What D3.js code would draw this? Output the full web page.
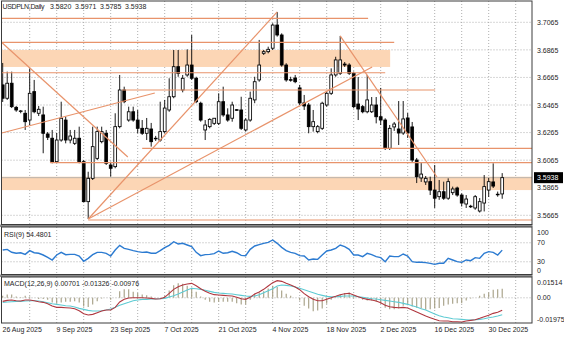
<!DOCTYPE html>
<html>
<head>
<meta charset="utf-8">
<script src="https://cdn.jsdelivr.net/npm/d3@7/dist/d3.min.js"></script>
<style>
  html, body { margin: 0; padding: 0; background: #fff; }
  svg { display: block; }
  text { font-family: "Liberation Sans", Arial, sans-serif; font-size: 7px; fill: #1e1e1e; }
</style>
</head>
<body>
<svg id="chart" width="564" height="338"></svg>
<script>
// ---- USDPLN daily candles (bar index 0 = 26 Aug 2025) ----
const symbol = "USDPLN,Daily";

const open = [3.6611,3.6514,3.6623,3.6448,3.6418,3.6405,3.6356,3.6562,3.6405,3.6393,
3.6255,3.6224,3.6054,3.6211,3.6356,3.6211,3.6187,3.6224,3.6054,3.5764,
3.5933,3.6078,3.6199,3.6260,3.6030,3.6018,3.6308,3.6574,3.6356,3.6416,
3.6356,3.6296,3.6260,3.6291,3.6224,3.6211,3.6272,3.6429,3.6525,3.6743,
3.6574,3.6683,3.6755,3.6659,3.6478,3.6284,3.6308,3.6332,3.6332,3.6489,
3.6393,3.6369,3.6431,3.6429,3.6284,3.6356,3.6502,3.6647,3.6840,3.6852,
3.6877,3.7045,3.6973,3.6755,3.6649,3.6661,3.6589,3.6480,3.6465,3.6308,
3.6272,3.6296,3.6465,3.6550,3.6683,3.6695,3.6762,3.6755,3.6695,3.6472,
3.6453,3.6416,3.6416,3.6465,3.6380,3.6356,3.6151,3.6306,3.6291,3.6262,
3.6371,3.6306,3.6066,3.5936,3.5907,3.5909,3.5848,3.5800,3.5836,3.5789,
3.5829,3.5863,3.5812,3.5747,3.5731,3.5718,3.5696,3.5754,3.5848,3.5907,
3.5818,3.5820];

const high = [3.6770,3.6707,3.6707,3.6458,3.6429,3.6429,3.6731,3.6647,3.6458,3.6453,
3.6269,3.6284,3.6262,3.6489,3.6380,3.6284,3.6284,3.6308,3.6066,3.5981,
3.6308,3.6308,3.6308,3.6284,3.6054,3.6405,3.6683,3.6598,3.6453,3.6453,
3.6429,3.6356,3.6371,3.6335,3.6241,3.6489,3.6502,3.6659,3.6864,3.6864,
3.6683,3.6869,3.6973,3.6670,3.6489,3.6356,3.6369,3.6371,3.6550,3.6598,
3.6441,3.6489,3.6435,3.6525,3.6369,3.6562,3.6670,3.6937,3.6864,3.6888,
3.7058,3.7140,3.6985,3.6768,3.6670,3.6683,3.6611,3.6538,3.6480,3.6429,
3.6320,3.6489,3.6562,3.6731,3.6815,3.6966,3.6777,3.6768,3.6707,3.6668,
3.6465,3.6683,3.6523,3.6523,3.6589,3.6369,3.6320,3.6342,3.6494,3.6494,
3.6407,3.6342,3.6081,3.6044,3.5950,3.5945,3.6030,3.5921,3.5909,3.5933,
3.5873,3.5873,3.5824,3.5812,3.5741,3.5812,3.5790,3.5957,3.5936,3.6042,
3.5837,3.5971];

const low = [3.6487,3.6502,3.6443,3.6416,3.6405,3.6284,3.6320,3.6405,3.6385,3.6115,
3.6211,3.6042,3.6044,3.6199,3.6187,3.6187,3.6175,3.6042,3.5760,3.5638,
3.5921,3.6066,3.6187,3.6030,3.5945,3.6006,3.6296,3.6478,3.6344,3.6344,
3.6260,3.6248,3.6211,3.6163,3.6204,3.6199,3.6260,3.6416,3.6514,3.6670,
3.6557,3.6670,3.6647,3.6478,3.6344,3.6211,3.6296,3.6320,3.6320,3.6380,
3.6344,3.6344,3.6423,3.6284,3.6272,3.6344,3.6478,3.6634,3.6828,3.6840,
3.6864,3.6961,3.6743,3.6634,3.6634,3.6623,3.6465,3.6429,3.6260,3.6272,
3.6260,3.6284,3.6453,3.6538,3.6670,3.6683,3.6741,3.6683,3.6441,3.6356,
3.6405,3.6405,3.6407,3.6332,3.6320,3.6139,3.6139,3.6277,3.6175,3.6248,
3.6226,3.6052,3.5899,3.5907,3.5885,3.5812,3.5718,3.5777,3.5777,3.5777,
3.5812,3.5800,3.5729,3.5718,3.5718,3.5705,3.5685,3.5693,3.5798,3.5863,
3.5800,3.5785];

const close = [3.6514,3.6623,3.6453,3.6429,3.6422,3.6344,3.6550,3.6416,3.6434,3.6260,
3.6231,3.6054,3.6211,3.6369,3.6211,3.6240,3.6224,3.6054,3.5764,3.5933,
3.6163,3.6272,3.6272,3.6042,3.6006,3.6308,3.6574,3.6489,3.6416,3.6356,
3.6296,3.6260,3.6296,3.6199,3.6222,3.6272,3.6443,3.6525,3.6743,3.6695,
3.6659,3.6755,3.6659,3.6489,3.6356,3.6320,3.6361,3.6369,3.6489,3.6393,
3.6356,3.6465,3.6427,3.6296,3.6356,3.6514,3.6634,3.6755,3.6852,3.6869,
3.7045,3.6973,3.6755,3.6647,3.6645,3.6634,3.6480,3.6458,3.6308,3.6344,
3.6308,3.6478,3.6550,3.6683,3.6792,3.6792,3.6755,3.6695,3.6453,3.6436,
3.6416,3.6502,3.6465,3.6380,3.6356,3.6151,3.6296,3.6327,3.6262,3.6364,
3.6262,3.6066,3.5945,3.5964,3.5933,3.5848,3.5789,3.5836,3.5789,3.5909,
3.5856,3.5812,3.5754,3.5783,3.5727,3.5800,3.5764,3.5873,3.5909,3.5877,
3.5815,3.5938];

// ---- RSI(9) ----
const rsi = [54.7,56.0,50.0,47.8,49.0,45.6,53.3,49.0,47.8,44.2,
39.3,33.7,44.2,49.8,44.9,45.6,45.6,42.1,30.9,37.2,
44.9,49.8,49.8,47.8,42.1,54.7,64.6,58.3,56.1,53.3,
51.2,49.8,50.5,47.8,47.8,53.3,59.6,64.6,72.2,67.4,
68.8,65.3,61.8,49.8,42.8,44.9,45.6,47.0,52.6,47.8,
49.0,51.9,49.0,43.5,42.8,56.1,63.2,66.0,68.8,70.9,
75.8,68.8,60.3,53.3,49.8,47.7,42.8,42.1,33.7,35.8,
35.1,44.2,52.6,54.7,58.2,65.3,61.7,56.1,44.2,44.2,
40.7,47.7,44.9,40.7,38.6,30.2,42.1,40.7,40.7,46.3,
42.1,30.2,28.8,28.8,28.1,26.7,24.6,26.7,26.7,37.2,
33.7,30.2,28.8,33.7,32.3,38.6,37.2,47.7,51.2,49.8,
44.2,54.4801];

// ---- MACD(12,26,9): histogram, signal line, main line ----
const macdHist = [0.0016,0.0026,0.0026,0.0010,0.0005,0.0016,0.0010,0.0000,-0.0010,-0.0010,
-0.0016,-0.0037,-0.0047,-0.0037,-0.0031,-0.0031,-0.0026,-0.0037,-0.0068,-0.0073,
-0.0052,-0.0026,-0.0005,0.0000,-0.0016,0.0000,0.0052,0.0068,0.0068,0.0047,
0.0037,0.0026,0.0021,0.0010,0.0000,0.0000,0.0016,0.0057,0.0099,0.0115,
0.0110,0.0094,0.0078,0.0047,0.0010,-0.0016,-0.0031,-0.0037,-0.0031,-0.0031,
-0.0031,-0.0031,-0.0042,-0.0052,-0.0052,-0.0016,0.0031,0.0042,0.0052,0.0073,
0.0094,0.0084,0.0057,0.0031,0.0016,0.0000,-0.0021,-0.0063,-0.0084,-0.0105,
-0.0099,-0.0084,-0.0047,-0.0016,0.0005,0.0026,0.0037,0.0042,0.0016,0.0000,
-0.0016,-0.0021,-0.0021,-0.0031,-0.0047,-0.0078,-0.0089,-0.0089,-0.0084,-0.0063,
-0.0058,-0.0068,-0.0078,-0.0084,-0.0094,-0.0089,-0.0084,-0.0079,-0.0063,-0.0052,
-0.0047,-0.0042,-0.0042,-0.0021,-0.0005,0.0000,0.0016,0.0031,0.0042,0.0063,
0.0068,0.00701];

const macdSignal = [-0.00355,-0.00329,-0.00303,-0.00277,-0.00277,-0.00251,-0.00225,-0.00225,-0.00251,-0.00303,
-0.00382,-0.00460,-0.00512,-0.00565,-0.00617,-0.00643,-0.00722,-0.00826,-0.00905,-0.00983,
-0.01035,-0.01035,-0.01010,-0.00957,-0.00879,-0.00748,-0.00591,-0.00460,-0.00355,-0.00225,
-0.00173,-0.00120,-0.00120,-0.00094,-0.00094,-0.00068,-0.00042,0.00063,0.00167,0.00298,
0.00455,0.00612,0.00743,0.00716,0.00664,0.00586,0.00507,0.00429,0.00376,0.00350,
0.00324,0.00298,0.00246,0.00193,0.00141,0.00115,0.00141,0.00246,0.00403,0.00560,
0.00716,0.00925,0.01004,0.00978,0.00925,0.00847,0.00743,0.00638,0.00507,0.00403,
0.00272,0.00193,0.00115,0.00089,0.00089,0.00115,0.00141,0.00141,0.00141,0.00089,
0.00037,-0.00016,-0.00068,-0.00094,-0.00147,-0.00200,-0.00251,-0.00303,-0.00355,-0.00434,
-0.00512,-0.00617,-0.00722,-0.00852,-0.00957,-0.01114,-0.01271,-0.01401,-0.01506,-0.01558,
-0.01637,-0.01663,-0.01689,-0.01715,-0.01741,-0.01715,-0.01689,-0.01637,-0.01560,-0.01500,
-0.01420,-0.01326];

const macdMain = [-0.00277,-0.00200,-0.00173,-0.00225,-0.00251,-0.00173,-0.00173,-0.00225,-0.00303,-0.00355,
-0.00460,-0.00643,-0.00748,-0.00748,-0.00774,-0.00800,-0.00852,-0.01010,-0.01245,-0.01349,
-0.01297,-0.01166,-0.01035,-0.00957,-0.00957,-0.00748,-0.00329,-0.00120,-0.00016,0.00010,
0.00010,0.00010,-0.00016,-0.00042,-0.00094,-0.00068,0.00037,0.00350,0.00664,0.00873,
0.01004,0.01082,0.01135,0.00951,0.00716,0.00507,0.00350,0.00246,0.00220,0.00193,
0.00167,0.00141,0.00037,-0.00068,-0.00120,0.00037,0.00298,0.00455,0.00664,0.00925,
0.01187,0.01344,0.01291,0.01135,0.01004,0.00847,0.00638,0.00324,0.00089,-0.00120,
-0.00225,-0.00225,-0.00120,0.00010,0.00115,0.00246,0.00324,0.00350,0.00220,0.00089,
-0.00042,-0.00120,-0.00173,-0.00251,-0.00382,-0.00591,-0.00696,-0.00748,-0.00774,-0.00748,
-0.00800,-0.00957,-0.01114,-0.01271,-0.01427,-0.01558,-0.01689,-0.01794,-0.01820,-0.01820,
-0.01872,-0.01872,-0.01898,-0.01820,-0.01767,-0.01715,-0.01610,-0.01480,-0.01375,-0.01218,
-0.01140,-0.00976];

// ---- axis ticks ----
const priceTicks = [3.7065, 3.6865, 3.6665, 3.6465, 3.6265, 3.6065, 3.5865, 3.5665];
const rsiTicks = [100, 70, 30, 0];
const rsiLevels = [70, 30];
const macdTicks = [0.01514, 0.00, -0.01975];
const dateBars = [0, 12, 24, 36, 48, 60, 72, 84, 96, 108];
const dateLabels = ["26 Aug 2025", "9 Sep 2025", "23 Sep 2025", "7 Oct 2025", "21 Oct 2025",
                    "4 Nov 2025", "18 Nov 2025", "2 Dec 2025", "16 Dec 2025", "30 Dec 2025"];
const weekBars = d3.range(6, 115, 6);

// ---- drawn analysis objects (bar index, price) ----
const levelLines = [
  { price: 3.7094, from: -1,   to: 81.2 },
  { price: 3.6920, from: -1,   to: 87.0 },
  { price: 3.6699, from: -1,   to: 85.0 },
  { price: 3.6574, from: 26.5, to: 96.1 },
  { price: 3.6151, from: 31.0, to: null },
  { price: 3.6047, from: 10.5, to: null },
  { price: 3.5631, from: 19.0, to: null }
];
const zones = [
  { top: 3.6864, bottom: 3.6741, from: -1, to: 86.1 },
  { top: 3.5945, bottom: 3.5848, from: -1, to: null }
];
const trendLines = [
  { b1: -0.2, p1: 3.6918, b2: 27.8, p2: 3.6088 },
  { b1: -0.2, p1: 3.6262, b2: 33.8, p2: 3.6552 },
  { b1: 19,   p1: 3.5638, b2: 61,   p2: 3.7140 },
  { b1: 19,   p1: 3.5638, b2: 82.1, p2: 3.6741 },
  { b1: 75,   p1: 3.6966, b2: 96.5, p2: 3.5943 }
];

// ---- layout ----
const svg = d3.select("#chart");
const frameL = 1.5, frameR = 532;
const panes = {
  main: { top: 1,   bottom: 224.5 },
  rsi:  { top: 227, bottom: 274.5 },
  macd: { top: 277, bottom: 323 }
};

const x = d3.scaleLinear().domain([0, open.length - 1]).range([2.7, 502.2]);
const y = d3.scaleLinear().domain([3.5665, 3.7065]).range([215.3, 22.3]);
const yR = d3.scaleLinear().domain([0, 100]).range([276, 228.5]);
const yM = d3.scaleLinear().domain([-0.01975, 0.01514]).range([323, 278.5]);
const edgeBar = x.invert(frameR);

const COL = {
  grid: "#9b9b9b", obj: "#E8936B", zone: "#FCD6B5", bid: "#ABABAB",
  rsi: "#2C7BD1", sig: "#5ECBD3", main: "#B0373F", hist: "#A39D82", border: "#3c3c3c"
};

const defs = svg.append("defs");
Object.entries(panes).forEach(([k, p]) => {
  defs.append("clipPath").attr("id", "clip-" + k)
    .append("rect").attr("x", frameL).attr("y", p.top)
    .attr("width", frameR - frameL).attr("height", p.bottom - p.top);
});

// splitters between panes
svg.append("rect").attr("x", 0).attr("y", panes.main.bottom).attr("width", frameR + 0.5)
  .attr("height", panes.rsi.top - panes.main.bottom).attr("fill", "#8a8a8a");
svg.append("rect").attr("x", 0).attr("y", panes.rsi.bottom).attr("width", frameR + 0.5)
  .attr("height", panes.macd.top - panes.rsi.bottom).attr("fill", "#8a8a8a");

// ---- dotted grid ----
const grid = svg.append("g").attr("stroke", COL.grid).attr("stroke-width", 0.8)
  .attr("stroke-dasharray", "1,2").attr("fill", "none");
Object.values(panes).forEach(p => {
  grid.append("g").selectAll("line").data(weekBars).join("line")
    .attr("x1", d => x(d)).attr("x2", d => x(d))
    .attr("y1", p.top).attr("y2", p.bottom);
});
grid.append("g").selectAll("line").data(priceTicks).join("line")
  .attr("x1", frameL).attr("x2", frameR).attr("y1", d => y(d)).attr("y2", d => y(d));
grid.append("g").selectAll("line").data(rsiLevels).join("line")
  .attr("x1", frameL).attr("x2", frameR).attr("y1", d => yR(d)).attr("y2", d => yR(d));
grid.append("line").attr("x1", frameL).attr("x2", frameR).attr("y1", yM(0)).attr("y2", yM(0));

// ---- main pane ----
const main = svg.append("g").attr("clip-path", "url(#clip-main)");
const toX = b => x(b === null ? edgeBar + 1 : b);

main.append("g").selectAll("rect").data(zones).join("rect")
  .attr("x", d => x(d.from)).attr("width", d => toX(d.to) - x(d.from))
  .attr("y", d => y(d.top)).attr("height", d => y(d.bottom) - y(d.top))
  .attr("fill", COL.zone);

// bid line
main.append("line").attr("x1", frameL).attr("x2", frameR)
  .attr("y1", y(close[close.length - 1])).attr("y2", y(close[close.length - 1]))
  .attr("stroke", COL.bid).attr("stroke-width", 0.8);

const bars = open.map((o, i) => ({ i, o, h: high[i], l: low[i], c: close[i] }));
const candles = main.append("g");
candles.selectAll("line").data(bars).join("line")
  .attr("x1", d => x(d.i)).attr("x2", d => x(d.i))
  .attr("y1", d => y(d.h)).attr("y2", d => y(d.l))
  .attr("stroke", "#000").attr("stroke-width", 0.9);
candles.selectAll("rect").data(bars).join("rect")
  .attr("x", d => x(d.i) - 1.4).attr("width", 2.8)
  .attr("y", d => y(Math.max(d.o, d.c)))
  .attr("height", d => Math.max(0.6, Math.abs(y(d.o) - y(d.c))))
  .attr("fill", d => d.c >= d.o ? "#fff" : "#000")
  .attr("stroke", "#000").attr("stroke-width", 0.85);

const objs = main.append("g").attr("stroke", COL.obj).attr("stroke-width", 1.2).attr("fill", "none");
objs.selectAll("line.lvl").data(levelLines).join("line").attr("class", "lvl")
  .attr("x1", d => x(d.from)).attr("x2", d => toX(d.to))
  .attr("y1", d => y(d.price)).attr("y2", d => y(d.price));
objs.selectAll("line.tl").data(trendLines).join("line").attr("class", "tl")
  .attr("x1", d => x(d.b1)).attr("y1", d => y(d.p1))
  .attr("x2", d => x(d.b2)).attr("y2", d => y(d.p2));

// ---- RSI pane ----
svg.append("g").attr("clip-path", "url(#clip-rsi)")
  .append("path").datum(rsi)
  .attr("d", d3.line().x((d, i) => x(i)).y(d => yR(d)))
  .attr("fill", "none").attr("stroke", COL.rsi).attr("stroke-width", 1.4);

// ---- MACD pane ----
const mg = svg.append("g").attr("clip-path", "url(#clip-macd)");
mg.append("g").selectAll("line").data(macdHist).join("line")
  .attr("x1", (d, i) => x(i)).attr("x2", (d, i) => x(i))
  .attr("y1", yM(0)).attr("y2", d => yM(d))
  .attr("stroke", COL.hist).attr("stroke-width", 1.1);
mg.append("path").datum(macdSignal)
  .attr("d", d3.line().x((d, i) => x(i)).y(d => yM(d)))
  .attr("fill", "none").attr("stroke", COL.sig).attr("stroke-width", 1.1);
mg.append("path").datum(macdMain)
  .attr("d", d3.line().x((d, i) => x(i)).y(d => yM(d)))
  .attr("fill", "none").attr("stroke", COL.main).attr("stroke-width", 1.1);

// ---- pane borders ----
Object.values(panes).forEach(p => {
  svg.append("rect").attr("x", frameL).attr("y", p.top)
    .attr("width", frameR - frameL).attr("height", p.bottom - p.top)
    .attr("fill", "none").attr("stroke", COL.border).attr("stroke-width", 1);
});

// ---- axes ----
function styleAxis(g) {
  g.attr("font-family", null).attr("font-size", null);
  g.select(".domain").remove();
}
svg.append("g").attr("transform", `translate(${frameR},0)`)
  .call(d3.axisRight(y).tickValues(priceTicks).tickFormat(d3.format(".4f")).tickSize(0).tickPadding(5))
  .call(styleAxis);

function clampTicks(g, scale, p) {
  g.selectAll(".tick").attr("transform",
    d => `translate(0,${Math.min(Math.max(scale(d), p.top + 5.3), p.bottom - 3.3)})`);
}
svg.append("g").attr("transform", `translate(${frameR},0)`)
  .call(d3.axisRight(yR).tickValues(rsiTicks).tickFormat(d3.format("d")).tickSize(0).tickPadding(5))
  .call(styleAxis).call(g => clampTicks(g, yR, panes.rsi));
svg.append("g").attr("transform", `translate(${frameR},0)`)
  .call(d3.axisRight(yM).tickValues(macdTicks).tickFormat(d => d === 0 ? "0.00" : d.toFixed(5)).tickSize(0).tickPadding(5))
  .call(styleAxis).call(g => clampTicks(g, yM, panes.macd));

const xAxis = svg.append("g").attr("transform", `translate(0,${panes.macd.bottom})`)
  .call(d3.axisBottom(x).tickValues(dateBars).tickFormat((d, i) => dateLabels[i]).tickSize(0).tickPadding(4))
  .call(styleAxis);
xAxis.selectAll("text").attr("text-anchor", "start").attr("dx", -0.7);

// current price tag
const last = close[close.length - 1];
const tag = svg.append("g").attr("transform", `translate(${frameR + 2},${y(last)})`);
tag.append("rect").attr("x", 0).attr("y", -5.5).attr("width", 29).attr("height", 11).attr("fill", "#000");
tag.append("text").attr("x", 3).attr("y", 2.5).style("fill", "#fff").text(last.toFixed(4));

// ---- pane captions ----
const n = open.length - 1;
const title = svg.append("text").attr("y", 9);
title.append("tspan").attr("x", 2.5).attr("letter-spacing", -0.35).text(symbol);
[open[n], high[n], low[n], close[n]].forEach((v, j) =>
  title.append("tspan").attr("x", 50 + j * 25).text(v.toFixed(4)));

svg.append("text").attr("x", 4).attr("y", panes.rsi.top + 9.5)
  .text(`RSI(9) ${rsi[n].toFixed(4)}`);
svg.append("text").attr("x", 4).attr("y", panes.macd.top + 9)
  .text(`MACD(12,26,9) ${macdHist[n].toFixed(5)} ${macdSignal[n].toFixed(5)} ${macdMain[n].toFixed(5)}`);
</script>
</body>
</html>
